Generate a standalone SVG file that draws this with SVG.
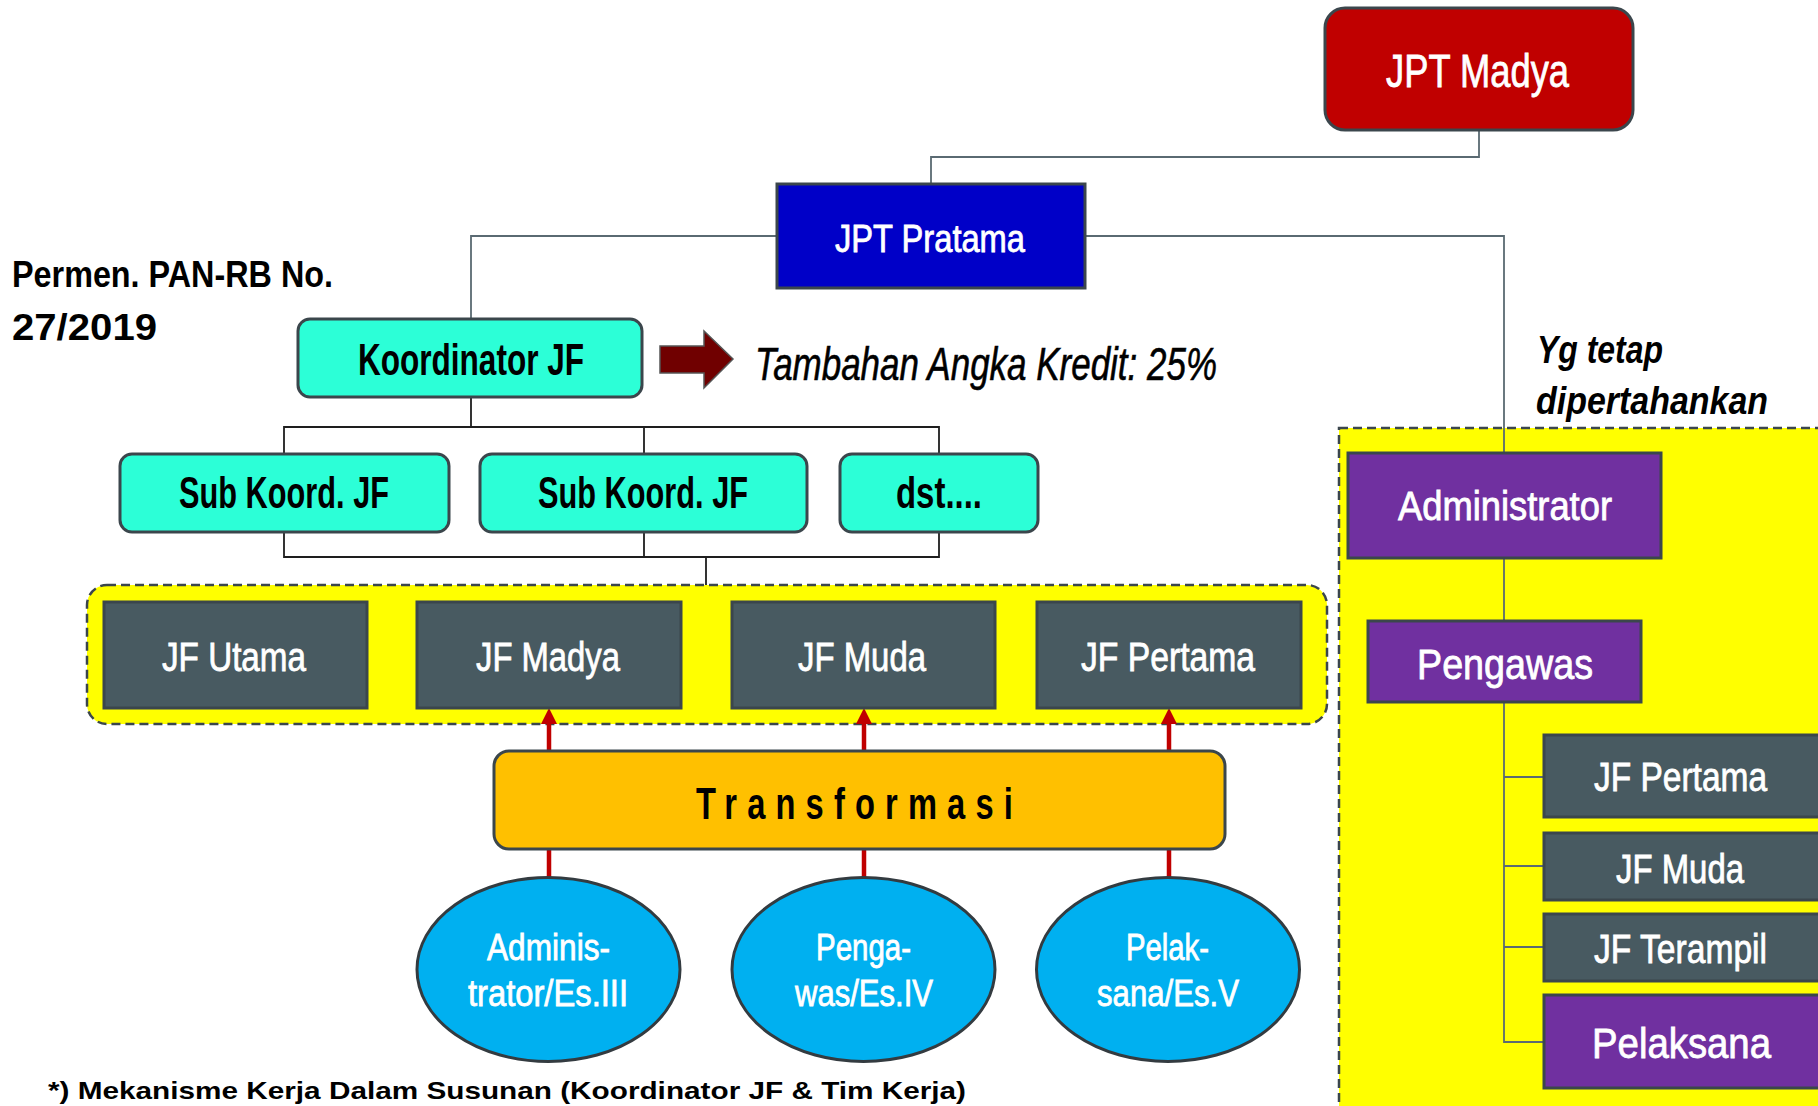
<svg xmlns="http://www.w3.org/2000/svg" width="1818" height="1106" viewBox="0 0 1818 1106">
<defs>
<style>
text{font-family:"Liberation Sans",Arial,sans-serif;}
.w{fill:#ffffff;stroke:#ffffff;stroke-width:0.8;}
.b{fill:#000000;font-weight:bold;}
.box{stroke:#3b464c;stroke-width:3;}
.red{fill:#C00000;}
.blue{fill:#0000C8;}
.aqua{fill:#2CFFD7;}
.slate{fill:#485A61;}
.purple{fill:#7030A0;}
.orange{fill:#FFC000;}
.ell{fill:#00B0F0;stroke:#333b40;stroke-width:3;}
.dash{fill:#FFFF00;stroke:#3b464c;stroke-width:2.5;stroke-dasharray:9 5;}
.gl{fill:none;stroke:#5a6a72;stroke-width:1.8;}
.bl{fill:none;stroke:#1e1e1e;stroke-width:1.8;}
.rl{fill:none;stroke:#C00000;stroke-width:4.5;}
.ra{fill:none;stroke:#C00000;stroke-width:4.5;marker-end:url(#ah);}
</style>
<marker id="ah" viewBox="0 0 16 16" refX="2" refY="8" markerWidth="16" markerHeight="16" markerUnits="userSpaceOnUse" orient="auto">
<path d="M0,0 L16,8 L0,16 z" fill="#C00000"/>
</marker>
</defs>
<rect width="1818" height="1106" fill="#ffffff"/>

<g id="area-retained">
<rect class="dash" x="1339" y="428" width="520" height="720"/>
</g>
<g id="area-jf">
<rect class="dash" x="87" y="585" width="1240" height="139" rx="20"/>
</g>

<g id="connectors">
<path class="gl" d="M1479,130 V157 H931 V184"/>
<path class="gl" d="M777,236 H471 V319"/>
<path class="gl" d="M1085,236 H1504 V453"/>
<path class="gl" d="M1504,558 V621"/>
<path class="gl" d="M1504,702 V1042 H1544 M1504,777 H1544 M1504,866 H1544 M1504,947 H1544"/>
<path class="bl" d="M471,397 V427 M284,454 V427 H939 V454 M644,427 V454"/>
<path class="bl" d="M284,532 V557 H939 V532 M644,532 V557 M706,557 V585"/>
<path class="bl" d="M644,557 H706" stroke-width="3"/>
<path class="ra" d="M549,751 V722"/>
<path class="ra" d="M864,751 V722"/>
<path class="ra" d="M1169,751 V722"/>
<path class="rl" d="M549,849 V878 M864,849 V878 M1169,849 V878"/>
</g>

<g id="jpt-madya">
<rect class="box red" x="1325" y="8" width="308" height="122" rx="20"/>
<text class="w" x="1386" y="87" font-size="47" textLength="183" lengthAdjust="spacingAndGlyphs">JPT Madya</text>
</g>
<g id="jpt-pratama">
<rect class="box blue" x="777" y="184" width="308" height="104"/>
<text class="w" x="835" y="252" font-size="39" textLength="190" lengthAdjust="spacingAndGlyphs">JPT Pratama</text>
</g>
<g id="regulation">
<text class="b" x="12" y="287" font-size="37" textLength="321" lengthAdjust="spacingAndGlyphs">Permen. PAN-RB No.</text>
<text class="b" x="12" y="340" font-size="37" textLength="145" lengthAdjust="spacingAndGlyphs">27/2019</text>
</g>
<g id="koordinator-jf">
<rect class="box aqua" x="298" y="319" width="344" height="78" rx="12" stroke-width="2.5"/>
<text class="b" x="358" y="375" font-size="45" textLength="226" lengthAdjust="spacingAndGlyphs">Koordinator JF</text>
</g>
<g id="angka-kredit">
<polygon points="660,346 704,346 704,331 733,359 704,388 704,373 660,373" fill="#700000" stroke="#555555" stroke-width="1.5"/>
<text x="755" y="380" font-size="46" font-style="italic" fill="#000" stroke="#000" stroke-width="0.6" textLength="462" lengthAdjust="spacingAndGlyphs">Tambahan Angka Kredit: 25%</text>
</g>
<g id="sub-koord-1">
<rect class="box aqua" x="120" y="454" width="329" height="78" rx="12" stroke-width="2.5"/>
<text class="b" x="179" y="508" font-size="45" textLength="210" lengthAdjust="spacingAndGlyphs">Sub Koord. JF</text>
</g>
<g id="sub-koord-2">
<rect class="box aqua" x="480" y="454" width="327" height="78" rx="12" stroke-width="2.5"/>
<text class="b" x="538" y="508" font-size="45" textLength="210" lengthAdjust="spacingAndGlyphs">Sub Koord. JF</text>
</g>
<g id="dst">
<rect class="box aqua" x="840" y="454" width="198" height="78" rx="12" stroke-width="2.5"/>
<text class="b" x="896" y="508" font-size="45" textLength="86" lengthAdjust="spacingAndGlyphs">dst....</text>
</g>
<g id="jf-utama">
<rect class="box slate" x="104" y="602" width="263" height="106"/>
<text class="w" x="162" y="671" font-size="41" textLength="144" lengthAdjust="spacingAndGlyphs">JF Utama</text>
</g>
<g id="jf-madya">
<rect class="box slate" x="417" y="602" width="264" height="106"/>
<text class="w" x="476" y="671" font-size="41" textLength="144" lengthAdjust="spacingAndGlyphs">JF Madya</text>
</g>
<g id="jf-muda">
<rect class="box slate" x="732" y="602" width="263" height="106"/>
<text class="w" x="798" y="671" font-size="41" textLength="128" lengthAdjust="spacingAndGlyphs">JF Muda</text>
</g>
<g id="jf-pertama">
<rect class="box slate" x="1037" y="602" width="264" height="106"/>
<text class="w" x="1081" y="671" font-size="41" textLength="174" lengthAdjust="spacingAndGlyphs">JF Pertama</text>
</g>
<g id="transformasi">
<rect class="box orange" x="494" y="751" width="731" height="98" rx="15" stroke-width="2.5"/>
<text class="b" x="696" y="819" font-size="45" letter-spacing="14" textLength="327" lengthAdjust="spacingAndGlyphs">Transformasi</text>
</g>
<g id="es-iii">
<ellipse class="ell" cx="548.5" cy="969.5" rx="131.5" ry="92"/>
<text class="w" x="487" y="960" font-size="36" textLength="123" lengthAdjust="spacingAndGlyphs">Adminis-</text>
<text class="w" x="468" y="1006" font-size="36" textLength="160" lengthAdjust="spacingAndGlyphs">trator/Es.III</text>
</g>
<g id="es-iv">
<ellipse class="ell" cx="863.5" cy="969.5" rx="131.5" ry="92"/>
<text class="w" x="816" y="960" font-size="36" textLength="95" lengthAdjust="spacingAndGlyphs">Penga-</text>
<text class="w" x="795" y="1006" font-size="36" textLength="138" lengthAdjust="spacingAndGlyphs">was/Es.IV</text>
</g>
<g id="es-v">
<ellipse class="ell" cx="1168" cy="969.5" rx="131.5" ry="92"/>
<text class="w" x="1126" y="960" font-size="36" textLength="83" lengthAdjust="spacingAndGlyphs">Pelak-</text>
<text class="w" x="1097" y="1006" font-size="36" textLength="142" lengthAdjust="spacingAndGlyphs">sana/Es.V</text>
</g>
<g id="retained-label">
<text class="b" x="1537" y="363" font-size="38" font-style="italic" textLength="126" lengthAdjust="spacingAndGlyphs">Yg tetap</text>
<text class="b" x="1536" y="414" font-size="38" font-style="italic" textLength="232" lengthAdjust="spacingAndGlyphs">dipertahankan</text>
</g>
<g id="administrator">
<rect class="box purple" x="1348" y="453" width="313" height="105"/>
<text class="w" x="1398" y="520" font-size="40" textLength="214" lengthAdjust="spacingAndGlyphs">Administrator</text>
</g>
<g id="pengawas">
<rect class="box purple" x="1368" y="621" width="273" height="81"/>
<text class="w" x="1417" y="679" font-size="43" textLength="176" lengthAdjust="spacingAndGlyphs">Pengawas</text>
</g>
<g id="r-jf-pertama">
<rect class="box slate" x="1544" y="735" width="300" height="82"/>
<text class="w" x="1594" y="791" font-size="40" textLength="173" lengthAdjust="spacingAndGlyphs">JF Pertama</text>
</g>
<g id="r-jf-muda">
<rect class="box slate" x="1544" y="833" width="300" height="67"/>
<text class="w" x="1616" y="883" font-size="40" textLength="128" lengthAdjust="spacingAndGlyphs">JF Muda</text>
</g>
<g id="r-jf-terampil">
<rect class="box slate" x="1544" y="914" width="300" height="67"/>
<text class="w" x="1594" y="963" font-size="40" textLength="173" lengthAdjust="spacingAndGlyphs">JF Terampil</text>
</g>
<g id="pelaksana">
<rect class="box purple" x="1544" y="995" width="300" height="93"/>
<text class="w" x="1592" y="1058" font-size="43" textLength="179" lengthAdjust="spacingAndGlyphs">Pelaksana</text>
</g>
<g id="footnote">
<text class="b" x="48" y="1099" font-size="24" textLength="918" lengthAdjust="spacingAndGlyphs">*) Mekanisme Kerja Dalam Susunan (Koordinator JF &amp; Tim Kerja)</text>
</g>
</svg>
